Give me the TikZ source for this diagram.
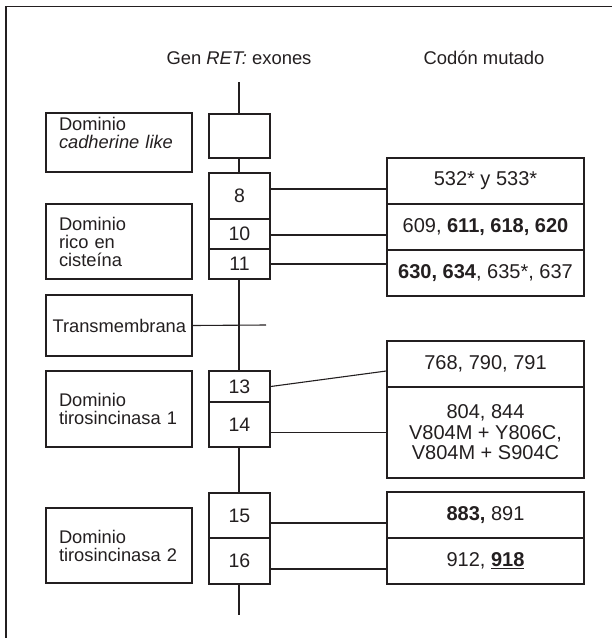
\documentclass[tikz,border=0pt]{standalone}
\usepackage{fontspec}
\setmainfont{Liberation Sans}
\usetikzlibrary{calc}
\definecolor{ink}{HTML}{231F20}

\tikzset{
  dombox/.style={draw=ink,fill=white,line width=1.4pt,minimum width=146pt,text width=120pt,inner xsep=13pt,inner ysep=0pt,align=left,font=\fontsize{18.3}{18}\selectfont},
  exbox/.style={draw=ink,fill=white,line width=1.4pt,minimum width=61pt,inner sep=0pt,font=\fontsize{19.5}{20}\selectfont},
  codbox/.style={draw=ink,fill=white,line width=1.4pt,minimum width=197pt,inner sep=0pt,align=center,font=\fontsize{20}{20.5}\selectfont},
  headtext/.style={font=\fontsize{18.4}{20}\selectfont},
}

\begin{document}
\begin{tikzpicture}[x=1pt,y=-1pt,line width=1.1pt,color=ink]
\useasboundingbox (0,0) rectangle (612,638);
\draw[line width=1.4pt] (6,638) -- (6,6.5) -- (612,6.5);

\node[headtext] (hgen) at (239,58) {Gen \textit{RET:} exones};
\node[headtext] (hcod) at (484,58) {Codón mutado};

% gene axis
\coordinate (sptop) at (239,82);
\coordinate (spbot) at (239,615);
\draw (sptop) -- (spbot);

% protein domains
\node[dombox,minimum height=59pt,text height=13pt,text depth=38pt] (dcad) at (119,142.5) {Dominio\\\textit{cadherine like}};
\node[dombox,minimum height=75pt] (dcys) at (119,241.5) {Dominio\\rico en\\cisteína};
\node[dombox,minimum height=61pt,inner xsep=6.5pt,text width=133pt] (dtm) at (119,325.5) {Transmembrana};
\node[dombox,minimum height=76pt] (dtk1) at (119,409) {Dominio\\tirosincinasa 1};
\node[dombox,minimum height=75pt] (dtk2) at (119,545.5) {Dominio\\tirosincinasa 2};

% exons
\node[exbox,minimum height=44pt] (e0) at (239.5,136) {};
\node[exbox,minimum height=46pt] (e8) at (239.5,196) {8};
\node[exbox,minimum height=30pt] (e10) at (239.5,234) {10};
\node[exbox,minimum height=30pt] (e11) at (239.5,264) {11};
\node[exbox,minimum height=31pt] (e13) at (239.5,386.5) {13};
\node[exbox,minimum height=45pt] (e14) at (239.5,424.5) {14};
\node[exbox,minimum height=45pt] (e15) at (239.5,515.5) {15};
\node[exbox,minimum height=46pt] (e16) at (239.5,561) {16};

% mutated codons
\node[codbox,minimum height=46pt] (c532) at (485.5,181) {532* y 533*};
\node[codbox,minimum height=46pt] (c609) at (485.5,227) {609, \textbf{611, 618, 620}};
\node[codbox,minimum height=46pt] (c630) at (485.5,273) {\textbf{630, 634}, 635*, 637};
\node[codbox,minimum height=46pt] (c768) at (485.5,364) {768, 790, 791};
\node[codbox,minimum height=91pt] (c804) at (485.5,432.5) {804, 844\\V804M + Y806C,\\V804M + S904C};
\node[codbox,minimum height=46pt] (c883) at (485.5,515) {\textbf{883,} 891};
\node[codbox,minimum height=46pt] (c912) at (485.5,561) {912, \textbf{\underline{918}}};

% links
\coordinate (tmend) at (266,325);
\draw (dtm.east) -- (tmend);
\draw ([yshift=-8pt]c532.west -| e8.east) -- ([yshift=-8pt]c532.west);
\draw ([yshift=-8pt]c609.west -| e10.east) -- ([yshift=-8pt]c609.west);
\draw (e11.east) -- (e11.east -| c630.west);
\draw (e13.east) -- ([yshift=-7pt]c768.west);
\draw (c804.west -| e14.east) -- (c804.west);
\draw ([yshift=-8pt]c883.west -| e15.east) -- ([yshift=-8pt]c883.west);
\draw ([yshift=-8pt]c912.west -| e16.east) -- ([yshift=-8pt]c912.west);
\end{tikzpicture}
\end{document}
